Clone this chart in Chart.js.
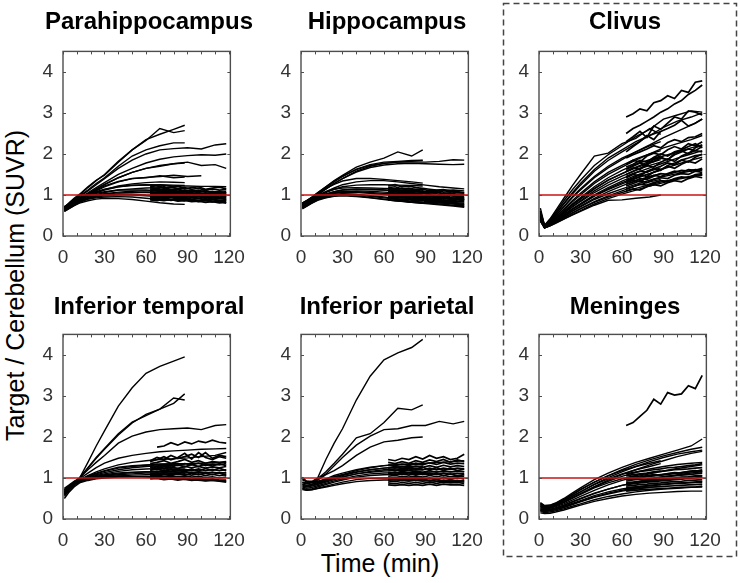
<!DOCTYPE html>
<html>
<head>
<meta charset="utf-8">
<script src="https://cdn.jsdelivr.net/npm/chart.js@4.4.1/dist/chart.umd.min.js"></script>
<style>
  body { margin: 0; background: #fff; width: 740px; height: 583px; position: relative; overflow: hidden;
         font-family: "Liberation Sans", Arial, sans-serif; }
  canvas { position: absolute; }
  .title { position: absolute; width: 260px; text-align: center; font-weight: bold; font-size: 24px;
           line-height: 24px; color: #000; white-space: nowrap; }
  .xlabel { position: absolute; left: 230px; top: 551px; width: 300px; text-align: center;
            font-size: 25px; line-height: 25px; color: #000; }
  .ylabel { position: absolute; left: -185px; top: 273px; width: 400px; text-align: center;
            font-size: 25px; line-height: 25px; color: #000; transform: rotate(-90deg); }
  svg { position: absolute; left: 0; top: 0; }
</style>
</head>
<body>
<svg width="740" height="583">
  <rect x="503.5" y="3.5" width="233" height="553" fill="none" stroke="#444" stroke-width="1.5" stroke-dasharray="6 4"/>
</svg>
<div class="xlabel">Time (min)</div>
<div class="ylabel">Target / Cerebellum (SUVR)</div>

<script>
// Frame times (min)
const TIME_EARLY = [1, 4, 8, 12, 18, 24, 30, 40, 50, 60, 70, 80, 88];
const TIME_FULL = [1, 4, 8, 12, 18, 24, 30, 40, 50, 60, 70, 80, 90, 100, 110, 118];
const TIME_LATE = [63, 68, 73, 78, 83, 88, 93, 98, 103, 108, 113, 118];

const X_TICKS = [0, 30, 60, 90, 120];
const X_MINOR = [0, 10, 20, 30, 40, 50, 60, 70, 80, 90, 100, 110, 120];
const Y_TICKS = [0, 1, 2, 3, 4];
const X_MAX = 121;
const Y_MAX = 4.5;
const REF_LEVEL = 1;

const TITLES = ['Parahippocampus', 'Hippocampus', 'Clivus', 'Inferior temporal', 'Inferior parietal', 'Meninges'];

// --- Parahippocampus ---
const paraEarly = [
  [0.70,0.80,0.92,1.02,1.20,1.36,1.48,1.80,2.10,2.35,2.48,2.60,2.70],
  [0.68,0.78,0.90,1.00,1.18,1.35,1.50,1.82,2.10,2.33,2.62,2.52,2.57],
  [0.70,0.78,0.88,0.98,1.12,1.28,1.42,1.70,1.95,2.10,2.20,2.27,2.27],
  [0.70,0.75,0.83,0.92,1.03,1.15,1.26,1.42,1.55,1.65,1.70,1.76,1.78],
  [0.72,0.77,0.84,0.92,1.02,1.12,1.22,1.33,1.40,1.42,1.47,1.42,1.44],
  [0.66,0.72,0.80,0.88,0.97,1.06,1.13,1.22,1.27,1.30,1.32,1.31,1.30],
  [0.64,0.70,0.78,0.86,0.94,1.01,1.06,1.12,1.15,1.17,1.18,1.17,1.16],
  [0.62,0.68,0.76,0.84,0.92,0.98,1.02,1.05,1.06,1.06,1.05,1.04,1.03],
  [0.60,0.66,0.74,0.82,0.90,0.95,0.98,1.00,1.00,0.98,0.96,0.94,0.93],
  [0.62,0.68,0.76,0.83,0.90,0.93,0.95,0.96,0.95,0.92,0.89,0.87,0.86],
  [0.60,0.66,0.74,0.80,0.86,0.90,0.92,0.91,0.89,0.85,0.81,0.78,0.77],
  [0.65,0.70,0.78,0.85,0.92,0.97,1.00,1.02,1.02,1.00,0.99,0.97,0.96],
  [0.68,0.74,0.82,0.90,0.98,1.04,1.08,1.12,1.12,1.12,1.10,1.09,1.08],
  [0.63,0.69,0.77,0.85,0.93,0.99,1.03,1.07,1.09,1.10,1.09,1.08,1.08],
  [0.70,0.76,0.84,0.92,1.00,1.08,1.14,1.20,1.23,1.24,1.25,1.24,1.23]
];
const paraFull = [
  [0.70,0.77,0.86,0.96,1.10,1.25,1.40,1.65,1.85,2.00,2.10,2.13,2.15,2.12,2.22,2.25],
  [0.70,0.76,0.84,0.93,1.05,1.18,1.30,1.50,1.65,1.78,1.87,1.93,1.96,1.98,1.97,2.00],
  [0.68,0.74,0.82,0.90,1.02,1.14,1.25,1.42,1.55,1.65,1.72,1.76,1.80,1.72,1.74,1.65],
  [0.70,0.75,0.82,0.90,1.00,1.10,1.20,1.32,1.40,1.43,1.45,1.48,1.45,1.47,null,null],
  [0.66,0.72,0.80,0.88,0.97,1.05,1.12,1.20,1.24,1.25,1.24,1.22,1.22,1.21,1.21,1.20]
];
const paraLate = [
  [1.25,1.22,1.18,1.20,1.15,1.18,1.14,1.16,1.12,1.15,1.12,1.13],
  [1.18,1.15,1.20,1.12,1.14,1.10,1.12,1.08,1.10,1.06,1.08,1.05],
  [1.12,1.10,1.08,1.11,1.06,1.08,1.04,1.06,1.02,1.05,1.01,1.03],
  [1.08,1.05,1.07,1.02,1.04,1.00,1.02,0.98,1.00,0.97,0.99,0.96],
  [1.05,1.02,1.00,1.03,0.98,1.00,0.96,0.98,0.94,0.96,0.93,0.95],
  [1.00,0.98,1.01,0.96,0.98,0.94,0.96,0.92,0.94,0.90,0.92,0.90],
  [0.97,0.95,0.93,0.96,0.92,0.93,0.90,0.92,0.88,0.90,0.87,0.88],
  [0.93,0.91,0.94,0.89,0.91,0.88,0.89,0.86,0.88,0.85,0.86,0.84],
  [0.90,0.88,0.86,0.89,0.85,0.87,0.84,0.85,0.82,0.84,0.81,0.82],
  [1.20,1.23,1.16,1.19,1.22,1.15,1.18,1.20,1.14,1.17,1.19,1.15],
  [1.02,1.06,1.03,1.07,1.02,1.05,1.01,1.04,1.00,1.03,0.99,1.01],
  [0.95,0.99,0.96,0.99,0.95,0.97,0.94,0.96,0.92,0.95,0.91,0.93],
  [1.10,1.14,1.11,1.13,1.09,1.12,1.08,1.11,1.07,1.09,1.06,1.08],
  [0.88,0.86,0.90,0.87,0.89,0.86,0.88,0.84,0.86,0.83,0.85,0.80],
  [1.15,1.12,1.14,1.10,1.13,1.09,1.11,1.07,1.10,1.06,1.08,1.04],
  [1.00,1.03,0.99,1.02,0.98,1.01,0.97,1.00,0.96,0.99,0.95,0.97],
  [0.92,0.95,0.91,0.94,0.90,0.93,0.89,0.91,0.88,0.90,0.86,0.88],
  [1.07,1.04,1.08,1.05,1.07,1.03,1.06,1.02,1.05,1.01,1.04,1.00]
];

// --- Hippocampus ---
const hippoEarly = [
  [0.80,0.85,0.95,1.05,1.20,1.35,1.48,1.68,1.80,1.90,2.05,1.95,2.10],
  [0.78,0.84,0.93,1.03,1.18,1.32,1.45,1.63,1.74,1.80,1.82,1.84,1.85],
  [0.76,0.82,0.90,1.00,1.14,1.28,1.40,1.58,1.70,1.77,1.80,1.82,1.84],
  [0.80,0.86,0.94,1.04,1.16,1.26,1.34,1.40,1.40,1.38,1.35,1.32,1.29],
  [0.75,0.80,0.88,0.96,1.06,1.14,1.20,1.24,1.25,1.25,1.24,1.23,1.22],
  [0.72,0.78,0.86,0.94,1.02,1.08,1.12,1.14,1.13,1.12,1.10,1.08,1.07],
  [0.70,0.76,0.84,0.92,0.99,1.04,1.06,1.06,1.04,1.01,0.98,0.96,0.94],
  [0.68,0.74,0.82,0.89,0.96,1.00,1.02,1.01,0.98,0.95,0.91,0.88,0.86],
  [0.74,0.80,0.88,0.95,1.02,1.06,1.08,1.08,1.06,1.04,1.02,1.00,0.99],
  [0.66,0.72,0.80,0.87,0.93,0.97,0.98,0.96,0.93,0.89,0.85,0.82,0.80],
  [0.78,0.83,0.91,0.99,1.08,1.14,1.17,1.18,1.17,1.16,1.15,1.14,1.13],
  [0.72,0.78,0.86,0.93,1.00,1.05,1.08,1.10,1.09,1.07,1.05,1.03,1.02]
];
const hippoFull = [
  [0.80,0.86,0.95,1.05,1.20,1.34,1.46,1.62,1.72,1.77,1.80,1.80,1.80,1.82,1.86,1.85],
  [0.78,0.84,0.92,1.02,1.15,1.28,1.40,1.56,1.67,1.73,1.76,1.77,1.76,1.75,1.74,1.75],
  [0.76,0.82,0.90,0.98,1.08,1.17,1.25,1.32,1.35,1.35,1.32,1.28,1.24,1.20,1.17,1.15],
  [0.72,0.78,0.86,0.94,1.02,1.08,1.12,1.14,1.14,1.12,1.10,1.08,1.08,1.10,1.12,1.10],
  [0.70,0.75,0.83,0.90,0.97,1.01,1.03,1.01,0.97,0.93,0.89,0.85,0.81,0.78,0.75,0.72],
  [0.68,0.73,0.81,0.88,0.94,0.98,1.00,0.98,0.94,0.90,0.86,0.82,0.79,0.76,0.73,0.70]
];
const hippoLate = [
  [1.22,1.25,1.20,1.22,1.18,1.16,1.14,1.12,1.13,1.10,1.08,1.06],
  [1.15,1.12,1.16,1.10,1.12,1.08,1.06,1.08,1.03,1.05,1.01,1.02],
  [1.10,1.08,1.05,1.07,1.02,1.04,1.00,0.98,0.99,0.95,0.96,0.93],
  [1.05,1.02,1.04,0.99,1.00,0.96,0.97,0.93,0.94,0.90,0.91,0.88],
  [1.00,0.98,0.95,0.97,0.93,0.94,0.90,0.91,0.87,0.88,0.85,0.86],
  [0.96,0.93,0.95,0.90,0.91,0.88,0.86,0.87,0.83,0.84,0.81,0.80],
  [0.92,0.90,0.88,0.89,0.85,0.86,0.82,0.83,0.80,0.80,0.77,0.78],
  [0.88,0.86,0.87,0.83,0.84,0.80,0.81,0.78,0.78,0.75,0.76,0.73],
  [1.18,1.20,1.15,1.17,1.13,1.14,1.10,1.11,1.07,1.08,1.05,1.05],
  [1.08,1.11,1.07,1.09,1.04,1.06,1.02,1.03,0.99,1.00,0.97,0.97],
  [0.98,1.01,0.97,0.99,0.95,0.96,0.92,0.93,0.90,0.91,0.88,0.89],
  [0.94,0.96,0.92,0.94,0.90,0.91,0.88,0.89,0.85,0.86,0.83,0.84],
  [1.12,1.15,1.10,1.12,1.08,1.10,1.05,1.06,1.03,1.04,1.00,1.01],
  [1.02,1.04,1.00,1.02,0.98,0.99,0.95,0.96,0.92,0.93,0.90,0.90],
  [0.90,0.92,0.89,0.91,0.87,0.88,0.84,0.85,0.82,0.82,0.79,0.76],
  [1.06,1.03,1.05,1.01,1.02,0.98,0.99,0.95,0.96,0.92,0.93,0.92]
];

// --- Clivus ---
const clivusEarly = [
  [0.68,0.26,0.42,0.62,0.92,1.22,1.50,1.95,2.02,2.25,2.38,2.62,2.48],
  [0.60,0.25,0.38,0.55,0.80,1.05,1.28,1.62,1.90,2.10,2.30,2.45,2.55],
  [0.55,0.24,0.35,0.50,0.72,0.95,1.15,1.45,1.70,1.90,2.05,2.20,2.30],
  [0.50,0.23,0.33,0.46,0.66,0.86,1.04,1.32,1.55,1.72,1.88,2.00,2.08],
  [0.48,0.22,0.31,0.42,0.60,0.78,0.94,1.20,1.42,1.60,1.75,1.86,1.95],
  [0.45,0.22,0.30,0.40,0.56,0.72,0.86,1.10,1.30,1.46,1.60,1.72,1.80],
  [0.42,0.21,0.28,0.37,0.52,0.66,0.79,1.00,1.18,1.34,1.48,1.58,1.66],
  [0.40,0.20,0.27,0.35,0.48,0.61,0.73,0.92,1.08,1.22,1.35,1.45,1.52],
  [0.38,0.20,0.26,0.33,0.45,0.56,0.67,0.84,0.98,1.10,1.22,1.32,1.38],
  [0.36,0.20,0.25,0.31,0.41,0.51,0.60,0.75,0.87,0.88,0.92,0.95,1.00],
  [0.40,0.21,0.27,0.36,0.50,0.64,0.77,0.98,1.15,1.30,1.42,1.52,1.60],
  [0.44,0.22,0.30,0.41,0.58,0.75,0.90,1.15,1.36,1.52,1.66,1.78,1.86]
];
const clivusFull = [
  [0.62,0.26,0.40,0.58,0.86,1.12,1.36,1.72,1.98,2.20,2.42,2.60,2.85,2.95,3.05,3.02],
  [0.58,0.25,0.37,0.53,0.78,1.02,1.24,1.58,1.84,2.05,2.25,2.45,2.65,2.80,2.90,3.00],
  [0.55,0.24,0.35,0.49,0.71,0.93,1.12,1.42,1.66,1.86,2.05,2.22,2.40,2.55,2.70,2.85],
  [0.50,0.23,0.33,0.45,0.64,0.83,1.00,1.28,1.50,1.68,1.85,2.00,2.15,2.25,2.35,2.45],
  [0.46,0.22,0.31,0.42,0.59,0.76,0.91,1.16,1.36,1.52,1.68,1.82,1.95,2.05,2.15,2.22],
  [0.44,0.22,0.30,0.40,0.55,0.70,0.84,1.06,1.24,1.40,1.54,1.66,1.78,1.90,2.00,2.08],
  [0.42,0.21,0.28,0.37,0.51,0.65,0.77,0.97,1.13,1.27,1.40,1.52,1.64,1.75,1.85,1.92],
  [0.40,0.21,0.27,0.35,0.48,0.60,0.71,0.89,1.03,1.15,1.26,1.36,1.45,1.52,1.58,1.62],
  [0.38,0.20,0.26,0.33,0.45,0.56,0.66,0.82,0.95,1.06,1.16,1.25,1.33,1.40,1.46,1.50],
  [0.36,0.20,0.25,0.32,0.42,0.52,0.62,0.78,0.91,1.02,1.12,1.22,1.30,1.38,1.44,1.48]
];
const clivusLate = [
  [2.90,2.98,3.10,3.05,3.25,3.30,3.42,3.35,3.55,3.50,3.75,3.78],
  [2.50,2.62,2.70,2.80,2.90,3.02,3.10,3.22,3.30,3.45,3.55,3.68],
  [2.30,2.42,2.55,2.40,2.68,2.60,2.75,2.90,2.85,3.05,3.02,2.95],
  [2.05,2.18,2.30,2.45,2.35,2.55,2.62,2.70,2.82,2.68,2.75,2.85],
  [1.90,1.98,2.05,2.12,2.20,2.15,2.28,2.35,2.30,2.40,2.42,2.50],
  [1.75,1.85,1.80,1.95,2.02,1.98,2.10,2.18,2.12,2.25,2.20,2.30],
  [1.62,1.70,1.78,1.72,1.88,1.92,1.85,2.02,2.08,2.00,2.15,2.22],
  [1.50,1.58,1.65,1.72,1.68,1.80,1.88,1.82,1.95,2.02,2.08,2.05],
  [1.42,1.50,1.46,1.58,1.65,1.60,1.72,1.78,1.85,1.80,1.92,2.00],
  [1.35,1.42,1.50,1.45,1.56,1.62,1.70,1.65,1.75,1.82,1.78,1.88],
  [1.30,1.36,1.32,1.42,1.48,1.45,1.52,1.58,1.55,1.62,1.60,1.65],
  [1.22,1.28,1.35,1.30,1.38,1.42,1.40,1.48,1.52,1.50,1.58,1.55],
  [1.15,1.20,1.26,1.24,1.30,1.35,1.33,1.40,1.44,1.42,1.50,1.52],
  [1.10,1.15,1.12,1.20,1.25,1.22,1.30,1.35,1.32,1.40,1.45,1.42],
  [1.58,1.66,1.62,1.76,1.82,1.90,1.86,1.98,2.05,2.12,2.08,2.18],
  [1.68,1.75,1.84,1.80,1.92,2.00,1.95,2.05,2.10,2.18,2.25,2.15],
  [1.26,1.32,1.40,1.38,1.46,1.52,1.50,1.55,1.60,1.58,1.62,1.60],
  [1.45,1.52,1.58,1.55,1.64,1.70,1.78,1.74,1.85,1.90,1.96,1.98]
];

// --- Inferior temporal ---
const tempEarly = [
  [0.75,0.82,0.92,1.00,1.38,1.78,2.15,2.75,3.20,3.55,3.72,3.85,3.95],
  [0.72,0.80,0.90,1.00,1.25,1.50,1.72,2.08,2.36,2.52,2.68,2.95,2.90],
  [0.70,0.79,0.90,1.00,1.24,1.48,1.70,2.05,2.34,2.55,2.68,2.82,3.05],
  [0.60,0.72,0.85,0.95,1.05,1.12,1.18,1.26,1.30,1.32,1.34,1.35,1.35],
  [0.55,0.68,0.82,0.92,1.00,1.06,1.10,1.16,1.20,1.22,1.23,1.24,1.24],
  [0.62,0.72,0.84,0.92,0.98,1.02,1.05,1.08,1.10,1.12,1.12,1.12,1.13],
  [0.50,0.64,0.78,0.88,0.94,0.98,1.00,1.02,1.03,1.04,1.04,1.03,1.03],
  [0.66,0.75,0.86,0.94,1.02,1.08,1.13,1.20,1.25,1.28,1.30,1.31,1.32],
  [0.68,0.76,0.86,0.93,0.99,1.03,1.06,1.10,1.13,1.15,1.16,1.17,1.18],
  [0.58,0.70,0.82,0.90,0.96,1.00,1.02,1.05,1.07,1.08,1.09,1.09,1.10]
];
const tempFull = [
  [0.72,0.80,0.90,1.00,1.20,1.38,1.55,1.85,2.02,2.12,2.18,2.20,2.22,2.18,2.28,2.30],
  [0.70,0.78,0.88,0.98,1.12,1.25,1.36,1.48,1.55,1.60,1.64,1.66,1.68,1.70,1.71,1.72],
  [0.66,0.75,0.86,0.95,1.06,1.15,1.22,1.32,1.38,1.42,1.45,1.47,1.49,1.52,1.55,1.62],
  [0.64,0.74,0.85,0.94,1.03,1.10,1.16,1.24,1.28,1.31,1.33,1.34,1.35,1.36,1.37,1.38],
  [0.60,0.71,0.83,0.92,0.98,1.02,1.04,1.05,1.04,1.02,1.00,0.98,0.96,0.94,0.93,0.92],
  [0.62,0.72,0.84,0.92,0.99,1.04,1.08,1.12,1.14,1.15,1.15,1.15,1.14,1.14,1.13,1.12]
];
const tempLate = [
  [null,1.75,1.78,1.86,1.80,1.88,1.83,1.90,1.86,1.92,1.87,1.85],
  [1.42,1.50,1.45,1.55,1.48,1.52,1.58,1.50,1.62,1.48,1.55,1.52],
  [1.35,1.38,1.42,1.36,1.40,1.45,1.38,1.42,1.36,1.40,1.38,1.40],
  [1.30,1.33,1.28,1.34,1.30,1.35,1.32,1.36,1.30,1.34,1.32,1.35],
  [1.25,1.28,1.24,1.27,1.23,1.28,1.25,1.28,1.24,1.27,1.25,1.28],
  [1.20,1.22,1.18,1.22,1.19,1.21,1.18,1.22,1.18,1.21,1.18,1.20],
  [1.15,1.17,1.13,1.16,1.13,1.16,1.12,1.15,1.12,1.14,1.12,1.13],
  [1.10,1.12,1.08,1.11,1.08,1.10,1.07,1.10,1.06,1.09,1.06,1.08],
  [1.05,1.07,1.04,1.06,1.03,1.05,1.02,1.04,1.01,1.03,1.00,1.02],
  [1.00,1.02,0.99,1.01,0.98,1.00,0.97,0.99,0.96,0.98,0.95,0.95],
  [0.98,0.99,0.96,0.98,0.95,0.97,0.94,0.96,0.93,0.95,0.92,0.90],
  [1.28,1.24,1.30,1.26,1.32,1.27,1.33,1.28,1.34,1.29,1.35,1.30],
  [1.18,1.14,1.20,1.16,1.21,1.17,1.22,1.17,1.23,1.18,1.24,1.18],
  [1.08,1.05,1.10,1.06,1.11,1.07,1.12,1.08,1.12,1.08,1.13,1.06],
  [1.40,1.45,1.52,1.44,1.50,1.60,1.46,1.62,1.50,1.45,1.52,1.48]
];

// --- Inferior parietal ---
const parEarly = [
  [0.95,0.92,0.92,1.00,1.45,1.85,2.20,2.90,3.48,3.88,4.05,4.18,4.38],
  [0.90,0.88,0.90,0.98,1.15,1.36,1.58,1.98,2.08,2.35,2.70,2.66,2.78],
  [0.88,0.86,0.88,0.95,1.08,1.18,1.30,1.55,1.75,1.88,1.92,1.98,2.00],
  [0.85,0.82,0.85,0.90,0.98,1.06,1.12,1.20,1.26,1.30,1.32,1.33,1.34],
  [0.80,0.78,0.80,0.84,0.90,0.96,1.02,1.10,1.16,1.20,1.22,1.23,1.24],
  [0.75,0.72,0.74,0.78,0.84,0.90,0.95,1.02,1.06,1.08,1.09,1.10,1.10],
  [0.72,0.70,0.72,0.75,0.80,0.85,0.90,0.96,0.99,1.00,1.00,1.00,1.00],
  [1.02,0.92,0.90,0.92,0.97,1.03,1.08,1.15,1.20,1.24,1.26,1.27,1.28],
  [0.98,0.90,0.88,0.89,0.93,0.98,1.03,1.10,1.14,1.17,1.18,1.19,1.20],
  [0.82,0.80,0.82,0.86,0.92,0.99,1.06,1.14,1.20,1.24,1.27,1.28,1.29]
];
const parFull = [
  [0.90,0.87,0.90,0.98,1.10,1.30,1.50,1.80,2.02,2.18,2.20,2.28,2.28,2.38,2.32,2.38],
  [0.85,0.82,0.84,0.88,0.95,1.02,1.08,1.18,1.25,1.30,1.33,1.35,1.36,1.38,1.40,1.42],
  [0.78,0.75,0.77,0.81,0.87,0.93,0.98,1.05,1.10,1.12,1.13,1.14,1.14,1.15,1.15,1.16],
  [0.74,0.70,0.71,0.74,0.78,0.82,0.86,0.91,0.94,0.95,0.95,0.94,0.93,0.92,0.91,0.90]
];
const parLate = [
  [1.45,1.42,1.48,1.45,1.52,1.46,1.55,1.48,1.52,1.45,1.48,1.58],
  [1.38,1.35,1.40,1.36,1.42,1.38,1.44,1.40,1.45,1.38,1.44,1.40],
  [1.32,1.30,1.34,1.30,1.36,1.32,1.37,1.33,1.38,1.34,1.36,1.35],
  [1.26,1.24,1.28,1.25,1.29,1.26,1.30,1.26,1.31,1.27,1.30,1.28],
  [1.20,1.18,1.22,1.19,1.23,1.20,1.24,1.20,1.24,1.21,1.24,1.22],
  [1.14,1.12,1.16,1.13,1.17,1.14,1.18,1.14,1.18,1.15,1.17,1.15],
  [1.08,1.06,1.10,1.07,1.11,1.08,1.11,1.08,1.12,1.09,1.11,1.10],
  [1.03,1.01,1.04,1.02,1.05,1.02,1.06,1.03,1.06,1.03,1.05,1.04],
  [0.98,0.96,0.99,0.97,1.00,0.97,1.00,0.97,1.01,0.98,1.00,0.98],
  [0.93,0.91,0.94,0.92,0.95,0.92,0.95,0.92,0.95,0.93,0.94,0.92],
  [0.88,0.86,0.89,0.87,0.89,0.87,0.90,0.87,0.90,0.88,0.89,0.87],
  [0.83,0.82,0.84,0.82,0.84,0.82,0.85,0.82,0.85,0.83,0.84,0.82],
  [1.24,1.28,1.22,1.27,1.21,1.26,1.20,1.25,1.19,1.24,1.18,1.22],
  [1.10,1.14,1.09,1.13,1.08,1.12,1.07,1.11,1.06,1.10,1.05,1.08],
  [0.96,1.00,0.95,0.99,0.94,0.98,0.93,0.97,0.92,0.96,0.91,0.94]
];

// --- Meninges ---
const menEarly = [
  [0.35,0.30,0.32,0.36,0.45,0.56,0.66,0.84,0.98,1.10,1.20,1.28,1.35],
  [0.30,0.26,0.28,0.32,0.40,0.50,0.60,0.76,0.88,0.98,1.06,1.12,1.18],
  [0.25,0.22,0.24,0.27,0.34,0.42,0.50,0.63,0.73,0.82,0.88,0.93,0.98],
  [0.20,0.18,0.20,0.23,0.28,0.35,0.42,0.53,0.61,0.68,0.73,0.77,0.80],
  [0.38,0.32,0.33,0.38,0.48,0.60,0.72,0.90,1.05,1.18,1.28,1.36,1.42],
  [0.22,0.20,0.22,0.25,0.31,0.38,0.45,0.57,0.66,0.73,0.78,0.82,0.85]
];
const menFull = [
  [0.40,0.33,0.34,0.39,0.50,0.63,0.76,0.96,1.12,1.26,1.38,1.48,1.58,1.68,1.78,1.95],
  [0.36,0.31,0.32,0.37,0.47,0.59,0.71,0.90,1.06,1.20,1.33,1.44,1.54,1.62,1.70,1.75],
  [0.33,0.29,0.30,0.34,0.44,0.55,0.66,0.85,1.01,1.15,1.28,1.40,1.50,1.58,1.64,1.68],
  [0.30,0.27,0.28,0.32,0.41,0.51,0.61,0.79,0.95,1.08,1.20,1.32,1.42,1.52,1.60,1.65],
  [0.28,0.25,0.26,0.30,0.37,0.46,0.55,0.70,0.83,0.94,1.03,1.10,1.17,1.23,1.28,1.32],
  [0.25,0.22,0.23,0.27,0.33,0.41,0.49,0.62,0.73,0.82,0.90,0.97,1.03,1.08,1.12,1.15],
  [0.22,0.19,0.20,0.23,0.29,0.36,0.43,0.54,0.63,0.70,0.76,0.81,0.85,0.88,0.90,0.92],
  [0.18,0.16,0.17,0.20,0.25,0.31,0.37,0.47,0.55,0.61,0.66,0.70,0.73,0.75,0.77,0.78],
  [0.15,0.13,0.14,0.17,0.22,0.28,0.34,0.43,0.50,0.56,0.60,0.63,0.65,0.67,0.68,0.68],
  [0.32,0.28,0.29,0.33,0.42,0.52,0.62,0.78,0.92,1.04,1.14,1.22,1.28,1.33,1.36,1.38]
];
const menLate = [
  [2.28,2.35,2.50,2.65,2.92,2.80,3.08,3.02,3.05,3.25,3.18,3.50],
  [1.05,1.08,1.10,1.12,1.15,1.16,1.18,1.20,1.21,1.22,1.24,1.25],
  [0.98,1.02,1.00,1.05,1.06,1.08,1.10,1.12,1.13,1.15,1.16,1.20],
  [0.92,0.95,0.97,0.98,1.00,1.02,1.04,1.05,1.07,1.08,1.10,1.12],
  [0.88,0.90,0.92,0.94,0.96,0.97,0.99,1.00,1.02,1.03,1.05,1.06],
  [0.84,0.86,0.88,0.90,0.91,0.93,0.94,0.96,0.97,0.99,1.00,1.02],
  [0.80,0.82,0.84,0.85,0.87,0.88,0.90,0.91,0.92,0.94,0.95,0.96],
  [0.76,0.78,0.79,0.81,0.82,0.84,0.85,0.86,0.87,0.88,0.89,0.90],
  [0.72,0.74,0.75,0.77,0.78,0.79,0.80,0.81,0.82,0.83,0.84,0.85],
  [0.68,0.70,0.71,0.72,0.73,0.74,0.75,0.76,0.77,0.78,0.78,0.80],
  [1.10,1.13,1.16,1.18,1.20,1.22,1.25,1.26,1.28,1.30,1.32,1.35],
  [0.95,0.98,1.01,1.03,1.05,1.07,1.09,1.11,1.13,1.15,1.17,1.18],
  [0.86,0.88,0.91,0.92,0.94,0.96,0.97,0.99,1.01,1.02,1.04,1.05],
  [1.00,1.04,1.02,1.06,1.08,1.07,1.11,1.13,1.12,1.16,1.18,1.15]
];

const PANELS = [
  { early: paraEarly, full: paraFull, late: paraLate },
  { early: hippoEarly, full: hippoFull, late: hippoLate },
  { early: clivusEarly, full: clivusFull, late: clivusLate },
  { early: tempEarly, full: tempFull, late: tempLate },
  { early: parEarly, full: parFull, late: parLate },
  { early: menEarly, full: menFull, late: menLate }
];

// Layout (plot box of each panel)
const COL_LEFT = [63, 301, 539];
const ROW_TOP = [40, 323];
const TITLE_TOP = [9, 294];
const BOX_W = 172, BOX_H = 196;
const PAD_L = 45, PAD_T = 10, PAD_R = 20, PAD_B = 36;

function toPoints(times, values) {
  const pts = [];
  values.forEach((v, i) => {
    if (v !== null) pts.push({ x: times[i], y: v });
  });
  return pts;
}

function lineSet(points, width) {
  return { data: points, borderColor: '#000', borderWidth: width, pointRadius: 0, tension: 0, fill: false };
}

// MATLAB style box with inward ticks
const boxPlugin = {
  id: 'box',
  afterDatasetsDraw(chart) {
    const { ctx, chartArea: a, scales: { x, y } } = chart;
    ctx.save();
    ctx.strokeStyle = '#4d4d4d';
    ctx.lineWidth = 1;
    ctx.beginPath();
    X_MINOR.forEach(v => {
      const px = Math.round(x.getPixelForValue(v)) + 0.5;
      ctx.moveTo(px, a.bottom); ctx.lineTo(px, a.bottom - 3);
      ctx.moveTo(px, a.top); ctx.lineTo(px, a.top + 3);
    });
    Y_TICKS.forEach(v => {
      const py = Math.round(y.getPixelForValue(v)) + 0.5;
      ctx.moveTo(a.left, py); ctx.lineTo(a.left + 3, py);
      ctx.moveTo(a.right, py); ctx.lineTo(a.right - 3, py);
    });
    ctx.stroke();
    ctx.lineWidth = 1.4;
    ctx.strokeRect(a.left, a.top, a.width, a.height);
    ctx.restore();
  }
};

PANELS.forEach((panel, idx) => {
  const col = idx % 3, row = Math.floor(idx / 3);

  const canvas = document.createElement('canvas');
  canvas.width = BOX_W + PAD_L + PAD_R;
  canvas.height = BOX_H + PAD_T + PAD_B;
  canvas.style.left = (COL_LEFT[col] - PAD_L) + 'px';
  canvas.style.top = (ROW_TOP[row] - PAD_T) + 'px';
  document.body.appendChild(canvas);

  const title = document.createElement('div');
  title.className = 'title';
  title.textContent = TITLES[idx];
  title.style.left = (COL_LEFT[col] + BOX_W / 2 - 130) + 'px';
  title.style.top = TITLE_TOP[row] + 'px';
  document.body.appendChild(title);

  // reference line first so it is drawn on top
  const datasets = [{
    data: [{ x: 0, y: REF_LEVEL }, { x: X_MAX, y: REF_LEVEL }],
    borderColor: '#c81414', borderWidth: 1.3, pointRadius: 0, tension: 0
  }];
  panel.early.forEach(s => datasets.push(lineSet(toPoints(TIME_EARLY, s), 1.4)));
  panel.full.forEach(s => datasets.push(lineSet(toPoints(TIME_FULL, s), 1.4)));
  panel.late.forEach(s => datasets.push(lineSet(toPoints(TIME_LATE, s), 1.7)));

  const tickFont = { family: '"Liberation Sans", Arial, sans-serif', size: 19 };

  new Chart(canvas.getContext('2d'), {
    type: 'line',
    data: { datasets },
    options: {
      responsive: false,
      animation: false,
      events: [],
      layout: { autoPadding: false, padding: { left: 0, top: PAD_T, right: PAD_R, bottom: 0 } },
      plugins: { legend: { display: false }, tooltip: { enabled: false } },
      scales: {
        x: {
          type: 'linear', min: 0, max: X_MAX,
          grid: { display: false, drawTicks: false },
          border: { display: false },
          afterBuildTicks: axis => { axis.ticks = X_TICKS.map(v => ({ value: v })); },
          afterFit: axis => { axis.height = PAD_B; },
          ticks: { color: '#333', font: tickFont, padding: 10, maxRotation: 0 }
        },
        y: {
          type: 'linear', min: 0, max: Y_MAX,
          grid: { display: false, drawTicks: false },
          border: { display: false },
          afterBuildTicks: axis => { axis.ticks = Y_TICKS.map(v => ({ value: v })); },
          afterFit: axis => { axis.width = PAD_L; },
          ticks: { color: '#333', font: tickFont, padding: 10 }
        }
      }
    },
    plugins: [boxPlugin]
  });
});
</script>
</body>
</html>
